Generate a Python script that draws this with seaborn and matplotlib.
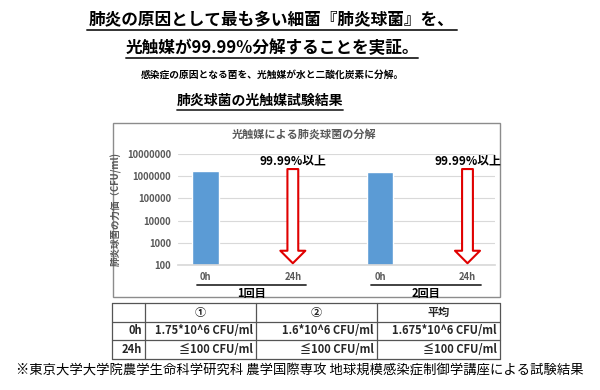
import matplotlib
matplotlib.use("Agg")
import matplotlib.pyplot as plt
from matplotlib.patches import Rectangle
from matplotlib.ticker import FixedLocator, FuncFormatter, NullLocator
import numpy as np
import pandas as pd
import seaborn as sns

sns.set_theme(style="white")
plt.rcParams["font.family"] = ["Noto Sans CJK JP", "DejaVu Sans"]

# ── データ ──────────────────────────────
categories = ["1回目-0h", "1回目-24h", "2回目-0h", "2回目-24h"]
tick_labels = ["0h", "24h", "0h", "24h"]
groups = ["1回目", "2回目"]
cfu_values = [1.75e6, 100, 1.6e6, 100]          # 24h は ≦100 CFU/ml
arrow_from = [2.1e6, 2.1e6]                     # 減少矢印の上端
arrow_to = [120, 120]                           # 減少矢印の先端
reduction_labels = ["99.99%以上", "99.99%以上"]
y_ticks = [1e2, 1e3, 1e4, 1e5, 1e6, 1e7]

table_header = ["", "①", "②", "平均"]
table_rows = [
    ["0h", "1.75*10^6 CFU/ml", "1.6*10^6 CFU/ml", "1.675*10^6 CFU/ml"],
    ["24h", "≦100 CFU/ml", "≦100 CFU/ml", "≦100 CFU/ml"],
]

BLUE = "#5B9BD5"
GRAY = "#595959"
GRID = "#D9D9D9"

fig = plt.figure(figsize=(6, 3.9), dpi=100)

# 背景レイヤー（ピクセル座標で文字・枠・表を配置）
bg = fig.add_axes([0, 0, 1, 1], zorder=0)
bg.set_xlim(0, 600)
bg.set_ylim(390, 0)
bg.axis("off")

bg.text(272, 20, "肺炎の原因として最も多い細菌『肺炎球菌』を、", ha="center", va="center",
        fontsize=12, fontweight="bold", color="black")
bg.plot([87, 457], [30, 30], color="#333333", lw=1.4)
bg.text(272, 48, "光触媒が99.99%分解することを実証。", ha="center", va="center",
        fontsize=12, fontweight="bold", color="black")
bg.plot([126, 418], [58, 58], color="#333333", lw=1.4)
bg.text(272, 75, "感染症の原因となる菌を、光触媒が水と二酸化炭素に分解。", ha="center", va="center",
        fontsize=7, fontweight="bold", color="black")
bg.text(260, 101, "肺炎球菌の光触媒試験結果", ha="center", va="center",
        fontsize=10, fontweight="bold", color="black")
bg.plot([177, 343], [110, 110], color="#333333", lw=1.3)

# グラフ枠
bg.add_patch(Rectangle((113, 123), 387, 174, fill=False, ec="#8C8C8C", lw=1.0))
bg.text(304, 135, "光触媒による肺炎球菌の分解", ha="center", va="center",
        fontsize=8, color=GRAY, fontweight="bold")

# 表
col_x = [112, 145, 256, 377, 500]
row_y = [303, 322, 340, 359]
for y in row_y:
    bg.plot([col_x[0], col_x[-1]], [y, y], color="#555555", lw=0.9)
for x in col_x:
    bg.plot([x, x], [row_y[0], row_y[-1]], color="#555555", lw=0.9)
for j, h in enumerate(table_header):
    if h:
        bg.text((col_x[j] + col_x[j + 1]) / 2, (row_y[0] + row_y[1]) / 2, h,
                ha="center", va="center", fontsize=8, fontweight="bold")
for i, row in enumerate(table_rows):
    for j, cell in enumerate(row):
        bg.text(col_x[j + 1] - 3, (row_y[i + 1] + row_y[i + 2]) / 2, cell,
                ha="right", va="center", fontsize=8, fontweight="bold")

bg.text(300, 370, "※東京大学大学院農学生命科学研究科 農学国際専攻 地球規模感染症制御学講座による試験結果",
        ha="center", va="center", fontsize=9.6, color="black")

# ── 棒グラフ ──────────────────────────────
ax = fig.add_axes([178 / 600, 1 - 265 / 390, 317 / 600, 111 / 390], zorder=2)
ax.patch.set_alpha(0)
df = pd.DataFrame({"cat": categories, "cfu": cfu_values})
ax.set_yscale("log")
sns.barplot(data=df, x="cat", y="cfu", color=BLUE, saturation=1, width=0.3, ax=ax)
ax.set_ylim(y_ticks[0], y_ticks[-1])
ax.yaxis.set_major_locator(FixedLocator(y_ticks))
ax.yaxis.set_minor_locator(NullLocator())
ax.yaxis.set_major_formatter(FuncFormatter(lambda v, p: f"{int(round(v))}"))
ax.grid(axis="y", color=GRID, lw=0.8)
ax.set_axisbelow(True)
for s in ["top", "right", "left"]:
    ax.spines[s].set_visible(False)
ax.spines["bottom"].set_color(GRID)
ax.tick_params(axis="both", length=0, colors=GRAY, labelsize=6.8)
ax.tick_params(axis="x", pad=5)
ax.tick_params(axis="y", pad=5)
ax.set_xticks(range(len(categories)))
ax.set_xticklabels(tick_labels, fontweight="bold")
for t in ax.get_yticklabels():
    t.set_fontweight("bold")
ax.set_xlabel("")
ax.set_ylabel("肺炎球菌の力価（CFU/ml)", fontsize=6.8, color=GRAY, fontweight="bold", labelpad=4)

# 減少矢印
for k, (top, tip, lab) in enumerate(zip(arrow_from, arrow_to, reduction_labels)):
    xk = 2 * k + 1
    ax.annotate("", xy=(xk, tip), xytext=(xk, top),
                arrowprops=dict(arrowstyle="simple,head_length=0.9,head_width=1.8,tail_width=0.78",
                                mutation_scale=10, fc="white", ec="#E00000", lw=1.5,
                                shrinkA=0, shrinkB=0))
    ax.text(xk, 4.8e6, lab, ha="center", va="center", fontsize=8.5,
            fontweight="bold", color="black")

# グループ見出し
for k, g in enumerate(groups):
    x0, x1 = 2 * k - 0.1, 2 * k + 1.15
    ax.plot([x0, x1], [-0.18, -0.18], transform=ax.get_xaxis_transform(), color="#333333",
            lw=1.3, clip_on=False)
    ax.text((x0 + x1) / 2, -0.255, g, transform=ax.get_xaxis_transform(), ha="center",
            va="center", fontsize=8, fontweight="bold", color="black")

fig.savefig("out.png", dpi=100)
